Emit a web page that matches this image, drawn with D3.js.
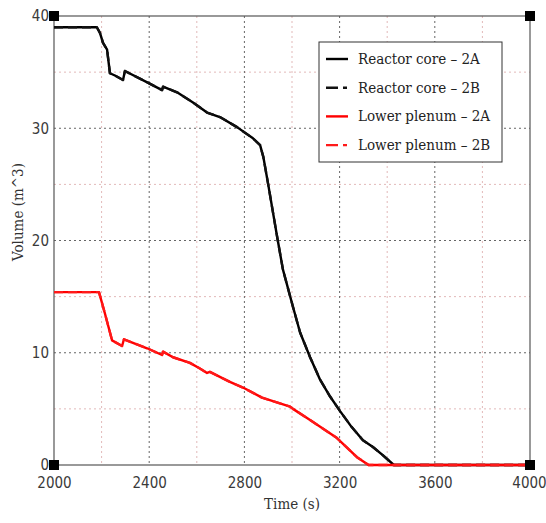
<!DOCTYPE html>
<html lang="en">
<head>
  <meta charset="utf-8">
  <script src="https://d3js.org/d3.v7.min.js"></script>
  <style>
    body { margin: 0; background: #fff; }
    .tick text { font-family: "DejaVu Sans Condensed", "DejaVu Sans", sans-serif; font-size: 15px; fill: #3a3a3a; }
    .title { font-family: "DejaVu Serif Condensed", "DejaVu Serif", serif; font-size: 15px; fill: #333; }
    .leg { font-family: "DejaVu Serif Condensed", "DejaVu Serif", serif; font-size: 15px; fill: #222; }
  </style>
</head>
<body>
<script>
// time (s) and volume (m^3)
var coreT = [2000, 2180, 2193, 2206, 2223, 2235, 2256, 2290, 2298, 2400, 2454, 2458, 2517, 2584, 2643, 2697, 2769, 2836, 2866, 2880, 2900, 2937, 2962, 3004, 3034, 3076, 3118, 3160, 3202, 3250, 3298, 3340, 3380, 3428, 4000];
var coreV = [39.0, 39.0, 38.5, 37.6, 37.0, 34.9, 34.7, 34.3, 35.1, 34.0, 33.4, 33.7, 33.2, 32.3, 31.4, 31.0, 30.1, 29.1, 28.5, 27.4, 25.0, 20.4, 17.4, 14.1, 11.8, 9.6, 7.6, 6.1, 4.8, 3.4, 2.2, 1.6, 0.9, 0.0, 0.0];
var plenT = [2000, 2189, 2214, 2244, 2286, 2294, 2391, 2454, 2458, 2500, 2571, 2613, 2643, 2655, 2739, 2794, 2874, 2992, 3004, 3076, 3189, 3273, 3322, 4000];
var plenV = [15.4, 15.4, 13.5, 11.1, 10.6, 11.2, 10.4, 9.8, 10.1, 9.6, 9.1, 8.6, 8.2, 8.3, 7.4, 6.9, 6.0, 5.2, 5.0, 4.0, 2.4, 0.7, 0.0, 0.0];
var seriesNames = ["Reactor core \u2013 2A", "Reactor core \u2013 2B", "Lower plenum \u2013 2A", "Lower plenum \u2013 2B"];
var xTicks = [2000, 2400, 2800, 3200, 3600, 4000];
var yTicks = [0, 10, 20, 30, 40];

var w = 546, h = 523;
var mLeft = 54, mRight = 530, mTop = 16, mBottom = 465;

var svg = d3.select("body").append("svg").attr("width", w).attr("height", h);

var x = d3.scaleLinear().domain([2000, 4000]).range([mLeft, mRight]);
var y = d3.scaleLinear().domain([0, 40]).range([mBottom, mTop]);

// minor grid
svg.append("g").selectAll("line").data(d3.range(2200, 4000, 400)).enter().append("line")
  .attr("x1", d => x(d)).attr("x2", d => x(d)).attr("y1", mTop).attr("y2", mBottom)
  .attr("stroke", "#e2b9b9").attr("stroke-dasharray", "2,3");
svg.append("g").selectAll("line").data([5, 15, 25, 35]).enter().append("line")
  .attr("y1", d => y(d)).attr("y2", d => y(d)).attr("x1", mLeft).attr("x2", mRight)
  .attr("stroke", "#e2b9b9").attr("stroke-dasharray", "2,3");
// major grid
svg.append("g").selectAll("line").data(xTicks.slice(1, -1)).enter().append("line")
  .attr("x1", d => x(d)).attr("x2", d => x(d)).attr("y1", mTop).attr("y2", mBottom)
  .attr("stroke", "#666").attr("stroke-dasharray", "2,3");
svg.append("g").selectAll("line").data(yTicks.slice(1, -1)).enter().append("line")
  .attr("y1", d => y(d)).attr("y2", d => y(d)).attr("x1", mLeft).attr("x2", mRight)
  .attr("stroke", "#666").attr("stroke-dasharray", "2,3");

// axes
var xAxis = svg.append("g").attr("transform", "translate(0," + mBottom + ")")
  .call(d3.axisBottom(x).tickValues(xTicks).tickSize(0).tickPadding(12).tickFormat(d3.format("d")));
var yAxis = svg.append("g").attr("transform", "translate(" + mLeft + ",0)")
  .call(d3.axisLeft(y).tickValues(yTicks).tickSize(0).tickPadding(5));
xAxis.select(".domain").remove();
yAxis.select(".domain").remove();
xAxis.selectAll(".tick text").filter(d => d === 4000).attr("dx", "-1");

// frame
svg.append("rect").attr("x", mLeft).attr("y", mTop).attr("width", mRight - mLeft).attr("height", mBottom - mTop)
  .attr("fill", "none").attr("stroke", "#555").attr("stroke-width", 1.2);

// lines
var line = d3.line().x(d => x(d[0])).y(d => y(d[1]));
var core = coreT.map((t, i) => [t, coreV[i]]);
var plen = plenT.map((t, i) => [t, plenV[i]]);
var series = [
  { data: core, color: "#000", dash: null },
  { data: core, color: "#111", dash: "9,5" },
  { data: plen, color: "#ff0000", dash: null },
  { data: plen, color: "#ff1a1a", dash: "9,5" }
];
svg.append("g").selectAll("path").data(series).enter().append("path")
  .attr("d", d => line(d.data))
  .attr("fill", "none")
  .attr("stroke", d => d.color)
  .attr("stroke-width", 2.4)
  .attr("stroke-linejoin", "round")
  .attr("stroke-dasharray", d => d.dash);

// corner squares
var corners = [[2000, 0], [2000, 40], [4000, 0], [4000, 40]];
svg.append("g").selectAll("rect").data(corners).enter().append("rect")
  .attr("x", d => x(d[0]) - 5).attr("y", d => y(d[1]) - 5)
  .attr("width", 10).attr("height", 10).attr("fill", "#000");

// axis titles
svg.append("text").attr("class", "title").attr("text-anchor", "middle")
  .attr("x", 292).attr("y", 509).text("Time (s)");
svg.append("text").attr("class", "title").attr("text-anchor", "middle")
  .attr("transform", "translate(23,212) rotate(-90)").text("Volume (m^3)");

// legend
var lg = svg.append("g").attr("transform", "translate(319,42)");
lg.append("rect").attr("width", 183).attr("height", 120).attr("fill", "#fff")
  .attr("stroke", "#333").attr("stroke-width", 1);
var items = lg.selectAll("g.item").data(series).enter().append("g")
  .attr("transform", (d, i) => "translate(0," + (17 + i * 28.7) + ")");
items.append("line").attr("x1", 7).attr("x2", 29).attr("y1", 0).attr("y2", 0)
  .attr("stroke", d => d.color).attr("stroke-width", 2.4)
  .attr("stroke-dasharray", d => d.dash ? "12,5,4,20" : null);
items.append("text").attr("class", "leg").attr("x", 39).attr("y", 5)
  .text((d, i) => seriesNames[i]);
</script>
</body>
</html>
